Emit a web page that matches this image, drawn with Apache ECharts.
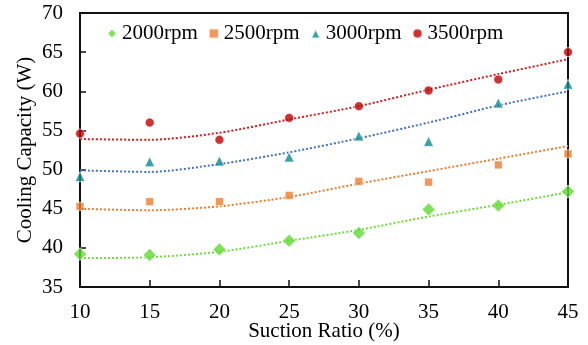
<!DOCTYPE html>
<html>
<head>
<meta charset="utf-8">
<script src="https://cdn.jsdelivr.net/npm/echarts@6/dist/echarts.min.js"></script>
<style>
  html, body { margin: 0; padding: 0; background: #fff; }
  #chart { width: 588px; height: 345px; }
</style>
</head>
<body>
<div id="chart"></div>
<script>
// suction ratio (%) on the x axis
const ratio = [10, 15, 20, 25, 30, 35, 40, 45];

// measured cooling capacity (W)
const cap2000 = [39.2, 39.1, 39.8, 40.9, 41.9, 44.9, 45.4, 47.2];
const cap2500 = [45.3, 45.9, 45.9, 46.7, 48.5, 48.4, 50.6, 52.0];
const cap3000 = [49.1, 51.0, 51.1, 51.6, 54.3, 53.6, 58.5, 60.9];
const cap3500 = [54.6, 56.0, 53.8, 56.6, 58.1, 60.1, 61.5, 65.0];

// dotted trend lines at the same x positions
const trend2000 = [38.7, 38.8, 39.5, 40.9, 42.3, 44.0, 45.5, 47.1];
const trend2500 = [45.0, 44.8, 45.3, 46.5, 48.2, 49.8, 51.4, 53.0];
const trend3000 = [49.9, 49.7, 50.7, 52.2, 54.0, 56.0, 58.2, 60.0];
const trend3500 = [53.9, 53.8, 54.7, 56.4, 58.1, 60.2, 62.2, 64.1];

const names = ["2000rpm", "2500rpm", "3000rpm", "3500rpm"];

const FONT = "Liberation Serif";

const pair = (ys) => ratio.map((x, i) => [x, ys[i]]);

const scatter = (name, ys, symbol, size, color) => ({
  name: name,
  type: "scatter",
  data: pair(ys),
  symbol: symbol,
  symbolSize: size,
  z: 5,
  itemStyle: { color: color, borderColor: "#fff", borderWidth: 0.8 },
});

const trend = (name, ys, color) => ({
  name: name + " trend",
  type: "line",
  data: pair(ys),
  smooth: 0.25,
  showSymbol: false,
  silent: true,
  z: 2,
  lineStyle: { color: color, width: 2, type: [2, 2] },
});

const chart = echarts.init(document.getElementById("chart"));
chart.setOption({
  animation: false,
  textStyle: { fontFamily: FONT, color: "#000" },
  grid: {
    left: 80,
    right: 20,
    top: 13,
    bottom: 58,
    outerBoundsMode: "none",
    containLabel: false,
    show: true,
    borderColor: "#111",
    borderWidth: 2,
  },
  legend: {
    data: names,
    left: 101,
    top: 18,
    itemGap: 10,
    itemWidth: 10,
    itemHeight: 10,
    textStyle: { fontFamily: FONT, fontSize: 21, color: "#000" },
  },
  xAxis: {
    type: "value",
    min: 10,
    max: 45,
    interval: 5,
    name: "Suction Ratio (%)",
    nameLocation: "middle",
    nameGap: 34,
    nameMoveOverlap: false,
    nameTextStyle: { fontFamily: FONT, fontSize: 21, color: "#000" },
    axisLine: { show: true, lineStyle: { color: "#111", width: 2 } },
    axisTick: { show: true, inside: true, length: 7, lineStyle: { color: "#111", width: 1.5 } },
    axisLabel: { fontFamily: FONT, fontSize: 21, color: "#000", margin: 15 },
    splitLine: { show: false },
  },
  yAxis: {
    type: "value",
    min: 35,
    max: 70,
    interval: 5,
    name: "Cooling Capacity (W)",
    nameLocation: "middle",
    nameGap: 44,
    nameMoveOverlap: false,
    nameTextStyle: { fontFamily: FONT, fontSize: 21, color: "#000" },
    axisLine: { show: true, lineStyle: { color: "#111", width: 2 } },
    axisTick: { show: true, inside: true, length: 6, lineStyle: { color: "#111", width: 1.5 } },
    axisLabel: { fontFamily: FONT, fontSize: 21, color: "#000", margin: 17 },
    splitLine: { show: false },
  },
  series: [
    trend("2000rpm", trend2000, "#6fdc3c"),
    trend("2500rpm", trend2500, "#ed7d31"),
    trend("3000rpm", trend3000, "#4472c4"),
    trend("3500rpm", trend3500, "#d41c1c"),
    scatter("2000rpm", cap2000, "diamond", 13, "#5fd930"),
    scatter("2500rpm", cap2500, "rect", 8, "#ed7d31"),
    scatter("3000rpm", cap3000, "triangle", 10, "#0f8a92"),
    scatter("3500rpm", cap3500, "circle", 9, "#c00000"),
  ],
});
</script>
</body>
</html>
